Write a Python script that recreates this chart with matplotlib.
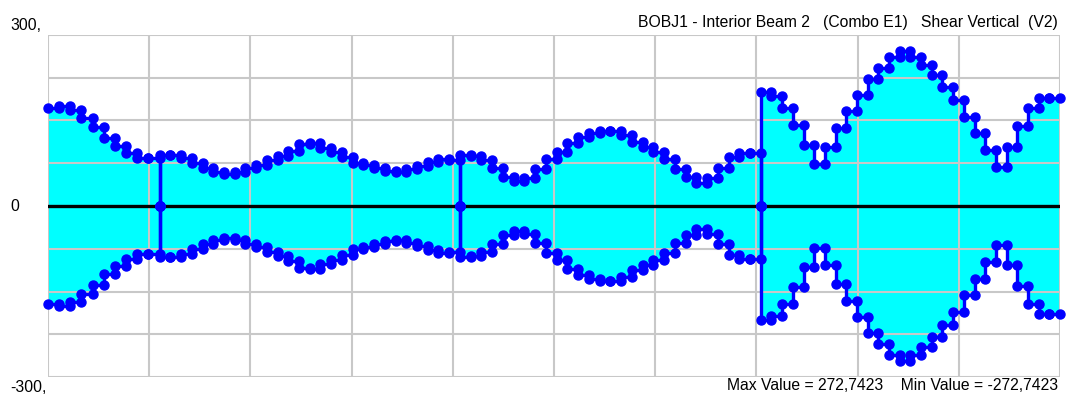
import matplotlib
matplotlib.use("Agg")
from matplotlib import pyplot as plt
import numpy as np

# beam geometry (fraction of total length) and shear envelope per span
span_edges = [0.0, 0.1103, 0.4070, 0.7043, 1.0]

span1 = [172, 175, 168, 154, 139, 120, 105, 93, 84, 84]
span2 = [89.5, 89.5, 84.2, 75.4, 66.7, 60.5, 57.0, 59.6, 65.8, 71.9,
         80.7, 87.7, 96.5, 108.8, 109.7, 101.8, 93.9, 86.8, 75.4, 71.9,
         65.8, 61.4, 60.5, 64.9, 70.2, 77.2, 81.6, 80.7]
span3 = [89.5, 87.7, 80.7, 66.7, 51.4, 43.0, 49.1, 64.9, 81.6, 95.6,
         110.5, 120.2, 127.5, 131.6, 132.1, 123.7, 112.8, 104.0, 93.9, 81.6,
         64.9, 51.4, 41.2, 49.1, 67.5, 85.1, 93.0, 93.0]
span4 = [200.0, 193.0, 171.1, 142.1, 107.0, 73.7, 103.0, 136.3, 167.5, 194.7,
         222.3, 241.6, 261.9, 272.74, 261.9, 247.4, 229.0, 209.3, 185.1, 156.7,
         127.5, 98.2, 68.9, 104.0, 140.4, 171.4, 189.0, 189.0]
spans = [span1, span2, span3, span4]

title = "BOBJ1 - Interior Beam 2   (Combo E1)   Shear Vertical  (V2)"
max_text = "Max Value = 272,7423    Min Value = -272,7423"

fig = plt.figure(figsize=(10.67, 3.97), dpi=100)
ax = fig.add_axes([48 / 1067, 20 / 397, 1012 / 1067, 342 / 397])

n = len(spans)
for i, vals in enumerate(spans):
    edges = np.linspace(span_edges[i], span_edges[i + 1], len(vals) + 1)
    xs = np.repeat(edges, 2)
    ys = np.concatenate([[0], np.repeat(vals, 2), [0]])
    ax.fill_between(xs, ys, -ys, color="#00FFFF", linewidth=0, zorder=1)
    # beam ends have no drop to zero
    lo = 1 if i == 0 else 0
    hi = len(xs) - 1 if i == n - 1 else len(xs)
    for sgn in (1, -1):
        ax.plot(xs[lo:hi], sgn * ys[lo:hi], color="#0000FF", lw=2.4,
                marker="o", ms=6.5, mec="#0000FF", mfc="#0000FF",
                zorder=4, clip_on=False)

ax.axhline(0, color="black", lw=2.4, zorder=3)

ax.set_xlim(0, 1)
ax.set_ylim(-300, 300)
ax.set_xticks(np.linspace(0, 1, 11))
ax.set_yticks(np.linspace(-300, 300, 9))
ax.grid(True, color="#C8C8C8", lw=1.5)
ax.set_axisbelow(False)
ax.tick_params(length=0, labelbottom=False, labelleft=False)
for s in ax.spines.values():
    s.set_visible(False)

font = dict(family="Liberation Sans", fontsize=11.3)
fig.text(10 / 1067, 1 - 25 / 397, "300,", va="center", ha="left", **font)
fig.text(10 / 1067, 1 - 206 / 397, "0", va="center", ha="left", **font)
fig.text(10 / 1067, 1 - 387 / 397, "-300,", va="center", ha="left", **font)
fig.text(1058 / 1067, 1 - 22 / 397, title, va="center", ha="right", **font)
fig.text(1058 / 1067, 1 - 386 / 397, max_text, va="center", ha="right", **font)

fig.savefig("out.png", dpi=100)
